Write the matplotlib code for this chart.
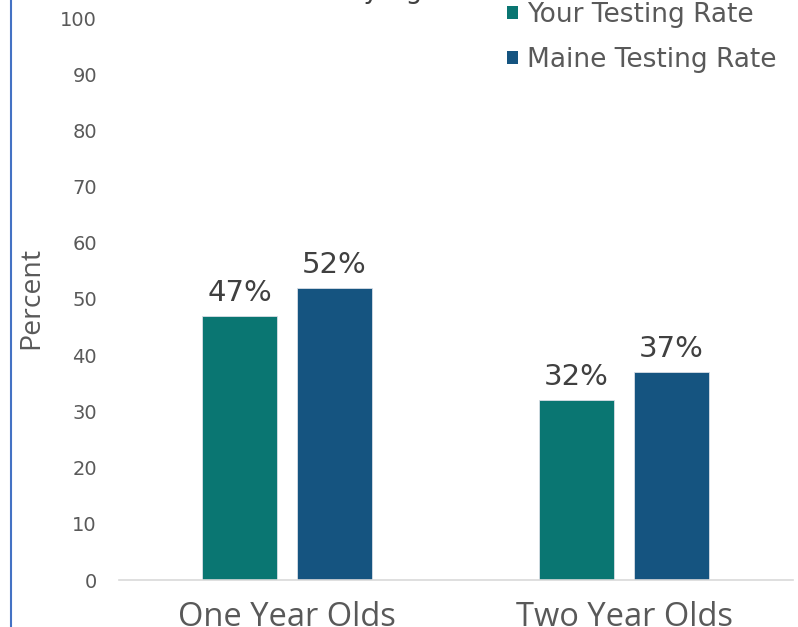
import matplotlib
matplotlib.use("Agg")
import matplotlib.pyplot as plt
import numpy as np
from matplotlib.patches import Patch
from matplotlib.lines import Line2D
from matplotlib.textpath import TextPath
from matplotlib.font_manager import FontProperties

categories = ["One Year Olds", "Two Year Olds"]
your_rate = [47, 32]
maine_rate = [52, 37]
series_names = ["Your Testing Rate", "Maine Testing Rate"]
y_ticks = [0, 10, 20, 30, 40, 50, 60, 70, 80, 90, 100]
title = "Lead Test Rates by Age"

teal = "#0A7672"
blue = "#155480"
gray_text = "#595959"

W, H = 798, 627
fig = plt.figure(figsize=(W / 100, H / 100), dpi=100)
ax = fig.add_axes([118.5 / W, 1 - 580 / H, (792.5 - 118.5) / W, (580 - 18) / H])

x = np.arange(len(categories))
bw = 0.2226
off = 0.141
b1 = ax.bar(x - off, your_rate, bw, color=teal, edgecolor="#D9DEE6", linewidth=0.6)
b2 = ax.bar(x + off, maine_rate, bw, color=blue, edgecolor="#D9DEE6", linewidth=0.6)

for bars, vals in ((b1, your_rate), (b2, maine_rate)):
    for r, v in zip(bars, vals):
        ax.annotate(f"{v}%", (r.get_x() + r.get_width() / 2, v), xytext=(0, 6.5),
                    textcoords="offset points", ha="center", va="bottom",
                    fontsize=21, color="#404040", family="DejaVu Sans")

ax.set_xlim(-0.5, 1.5)
ax.set_ylim(0, 100)
ax.set_yticks(y_ticks)
ax.set_yticklabels([str(t) for t in y_ticks], fontsize=14, color=gray_text, family="DejaVu Sans")
ax.set_xticks(x)
ax.set_xticklabels(categories, fontsize=23.5, color=gray_text, family="Open Sans")
ax.tick_params(axis="y", length=0, pad=15.5)
ax.tick_params(axis="x", length=0, pad=15)
for s in ("top", "right", "left"):
    ax.spines[s].set_visible(False)
ax.spines["bottom"].set_color("#D9D9D9")
ax.spines["bottom"].set_linewidth(1.2)

fig.text(31 / W, 1 - 298 / H, "Percent", rotation=90, ha="center", va="center",
         fontsize=20.5, color=gray_text, family="Open Sans")

handles = [Patch(facecolor=teal), Patch(facecolor=blue)]
fig.legend(handles, series_names, loc="upper left", bbox_to_anchor=(507 / W, 1 - 2 / H),
           frameon=False, handlelength=0.42, handleheight=0.42,
           handletextpad=0.34, labelspacing=0.72, borderpad=0, borderaxespad=0,
           labelcolor=gray_text, prop={"family": "DejaVu Sans", "size": 19})

# left border line
fig.add_artist(Line2D([11 / W, 11 / W], [0, 1], transform=fig.transFigure,
                      color="#4472C4", linewidth=1.5))

# partially visible title (cropped at top): only descenders of "by Age" show
tfs = 19
fp = FontProperties(family="DejaVu Sans", size=tfs)
prefix = title[: title.index("by") + 1]  # up to and including 'b'
pre_w_px = TextPath((0, 0), prefix, prop=fp).vertices[:, 0].max() * 100 / 72
x_left = 362 - pre_w_px
fig.text(x_left / W, 1 + 2.5 / H, title, ha="left", va="baseline",
         fontsize=tfs, color="#404040", family="DejaVu Sans")

fig.savefig("out.png", dpi=100)
